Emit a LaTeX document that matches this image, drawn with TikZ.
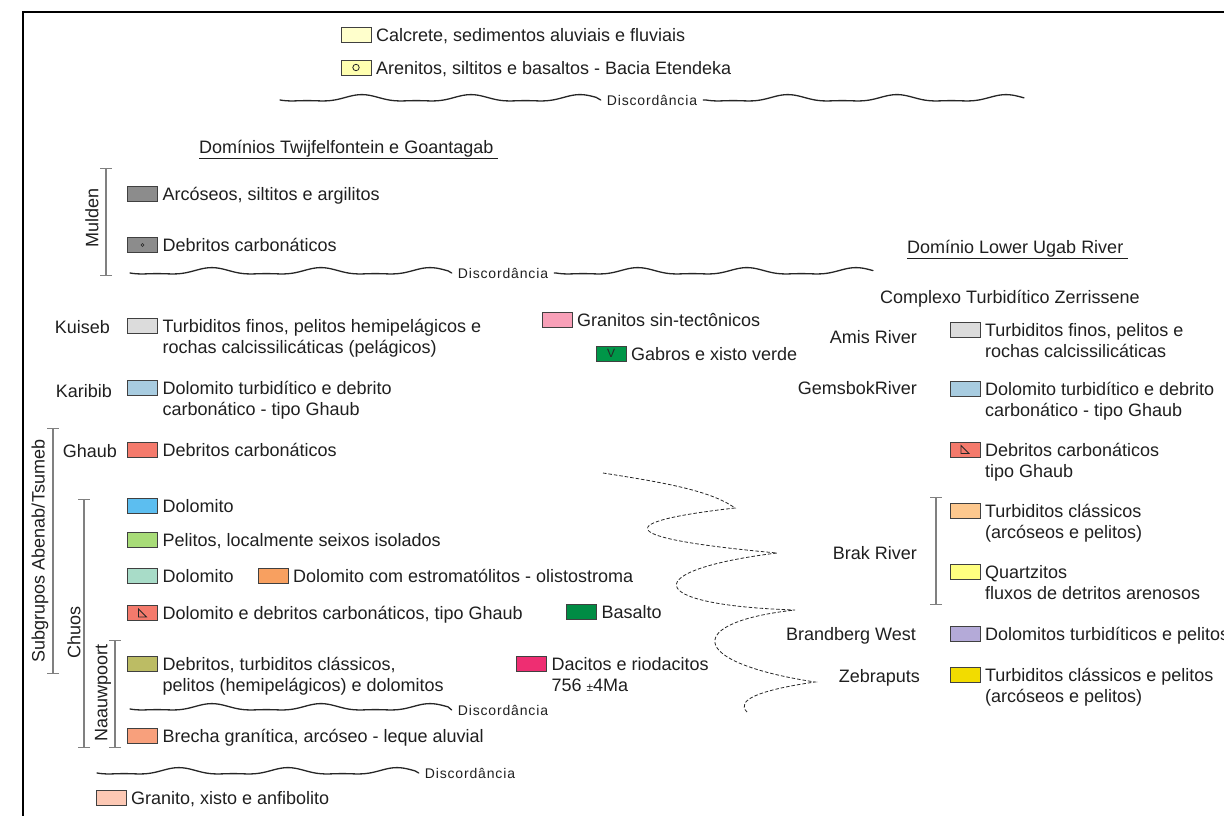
\documentclass[tikz,border=0pt]{standalone}
\usepackage{fontspec}
\setmainfont{Liberation Sans}
\newfontfamily\discfont[LetterSpace=6]{Liberation Sans}
\usetikzlibrary{arrows.meta}
\definecolor{calcrete}{RGB}{255,255,204}
\definecolor{arenito}{RGB}{255,255,176}
\definecolor{mulden}{RGB}{140,140,140}
\definecolor{kuiseb}{RGB}{220,220,220}
\definecolor{karibib}{RGB}{168,204,224}
\definecolor{ghaub}{RGB}{244,122,108}
\definecolor{dolblue}{RGB}{92,190,240}
\definecolor{pelito}{RGB}{168,220,120}
\definecolor{dolmint}{RGB}{168,220,200}
\definecolor{estrom}{RGB}{248,160,96}
\definecolor{basalto}{RGB}{0,140,68}
\definecolor{olive}{RGB}{188,188,100}
\definecolor{dacito}{RGB}{238,46,114}
\definecolor{brecha}{RGB}{248,160,124}
\definecolor{granito}{RGB}{252,200,180}
\definecolor{sintec}{RGB}{248,160,184}
\definecolor{gabro}{RGB}{0,150,72}
\definecolor{peach}{RGB}{253,200,142}
\definecolor{quartz}{RGB}{255,255,128}
\definecolor{lavender}{RGB}{180,170,216}
\definecolor{zebra}{RGB}{242,220,0}
\newcommand{\twolines}[2]{\begin{tabular}[t]{@{}l@{}}#1\\#2\end{tabular}}
\newcommand{\wave}[3]{plot[domain = 0:#3, samples = 110] ({#1+\x}, {#2+3*sin(\x*3.3)+1.2*sin(\x*6.6+90)-1.2})}

\begin{document}
\begin{tikzpicture}[x = 1pt, y = -1pt]
	\tikzstyle{unitStyle} = [draw = black!75, line width = 0.8pt, minimum width = 30pt, minimum height = 15pt, inner sep = 0pt]
	\tikzstyle{textStyle} = [anchor = base west, inner sep = 0pt, text = black!88, font = \fontsize{18}{21}\selectfont]
	\tikzstyle{legendStyle} = [textStyle, xshift = 4.5pt, yshift = 1pt]
	\tikzstyle{nameStyle} = [anchor = base east, inner sep = 0pt, text = black!88, font = \fontsize{18}{21}\selectfont]
	\tikzstyle{groupStyle} = [rotate = 90, inner sep = 0pt, text = black!88, font = \fontsize{18}{21}\selectfont]
	\tikzstyle{bracketStyle} = [draw = black!50, line width = 1.2pt, {Bar[width = 12pt]}-{Bar[width = 12pt]}]
	\tikzstyle{wavyStyle} = [line width = 1.3pt, black!85, line cap = round]
	\tikzstyle{discStyle} = [inner xsep = 6pt, inner ysep = 0pt, text = black!88, font = \discfont\fontsize{14}{16}\selectfont]
	\useasboundingbox (0,0) rectangle (1224,816);
	\draw[line width = 2.2pt] (1240,12) -- (23,12) -- (23,830);
	\node[unitStyle, fill = calcrete] (u0) at (356,34.5) {};
	\node[legendStyle] (e0) at (u0.south east) {Calcrete, sedimentos aluviais e fluviais};
	\node[unitStyle, fill = arenito] (u1) at (356,67.5) {};
	\node[legendStyle] (e1) at (u1.south east) {Arenitos, siltitos e basaltos - Bacia Etendeka};
	\draw[black!85, line width = 0.8pt] (u1.center) circle (3.2pt);
	\node[discStyle] (d0) at (652,100) {Discordância};
	\draw[wavyStyle] \wave{280}{100}{316} -- (d0.west);
	\draw[wavyStyle] (d0.east) -- (706,100) \wave{706}{100}{318};
	\node[textStyle] (h0) at (199,153) {\underline{Domínios Twijfelfontein e Goantagab\ }};
	\node[groupStyle] (s0) at (92,218) {Mulden};
	\draw[bracketStyle] (106,168) -- (106,276);
	\node[unitStyle, fill = mulden] (u2) at (142.5,193.5) {};
	\node[legendStyle] (e2) at (u2.south east) {Arcóseos, siltitos e argilitos};
	\node[unitStyle, fill = mulden] (u3) at (142.5,245) {};
	\node[legendStyle] (e3) at (u3.south east) {Debritos carbonáticos};
	\draw[black!85, line width = 0.6pt] (u3.center) circle (1.5pt);
	\node[discStyle] (d1) at (503,273) {Discordância};
	\draw[wavyStyle] \wave{130}{273}{318} -- (d1.west);
	\draw[wavyStyle] (d1.east) -- (556,273) \wave{556}{273}{317};
	\node[textStyle] (h1) at (907,253) {\underline{Domínio Lower Ugab River\ }};
	\node[textStyle] (h2) at (880,303) {Complexo Turbidítico Zerrissene};
	\node[nameStyle] (l0) at (110,333) {Kuiseb};
	\node[unitStyle, fill = kuiseb] (u4) at (142.5,325.5) {};
	\node[legendStyle] (e4) at (u4.south east) {\twolines{Turbiditos finos, pelitos hemipelágicos e}{rochas calcissilicáticas (pelágicos)}};
	\node[nameStyle] (l1) at (112,397) {Karibib};
	\node[unitStyle, fill = karibib] (u5) at (142.5,387.5) {};
	\node[legendStyle] (e5) at (u5.south east) {\twolines{Dolomito turbidítico e debrito}{carbonático - tipo Ghaub}};
	\node[nameStyle] (l2) at (117,457) {Ghaub};
	\node[unitStyle, fill = ghaub] (u6) at (142.5,450) {};
	\node[legendStyle] (e6) at (u6.south east) {Debritos carbonáticos};
	\node[groupStyle] (s1) at (40,551) {Subgrupos Abenab/Tsumeb};
	\draw[bracketStyle] (53,428) -- (53,674);
	\node[groupStyle] (s2) at (74,632) {Chuos};
	\draw[bracketStyle] (84,499) -- (84,748);
	\node[groupStyle] (s3) at (103,693) {Naauwpoort};
	\draw[bracketStyle] (115,640) -- (115,748);
	\node[unitStyle, fill = dolblue] (u7) at (142.5,506) {};
	\node[legendStyle] (e7) at (u7.south east) {Dolomito};
	\node[unitStyle, fill = pelito] (u8) at (142.5,540) {};
	\node[legendStyle] (e8) at (u8.south east) {Pelitos, localmente seixos isolados};
	\node[unitStyle, fill = dolmint] (u9) at (142.5,575.5) {};
	\node[legendStyle] (e9) at (u9.south east) {Dolomito};
	\node[unitStyle, fill = estrom] (u10) at (273,575.5) {};
	\node[legendStyle] (e10) at (u10.south east) {Dolomito com estromatólitos - olistostroma};
	\node[unitStyle, fill = ghaub] (u11) at (142.5,613) {};
	\node[legendStyle] (e11) at (u11.south east) {Dolomito e debritos carbonáticos, tipo Ghaub};
	\draw[black!85, line width = 0.8pt] ([shift = {(-4,-4)}]u11.center) -- ([shift = {(-4,4)}]u11.center) -- ([shift = {(4,4)}]u11.center) -- cycle;
	\node[unitStyle, fill = basalto] (u12) at (581.5,612) {};
	\node[legendStyle] (e12) at (u12.south east) {Basalto};
	\node[unitStyle, fill = olive] (u13) at (142.5,663.5) {};
	\node[legendStyle] (e13) at (u13.south east) {\twolines{Debritos, turbiditos clássicos,}{pelitos (hemipelágicos) e dolomitos}};
	\node[unitStyle, fill = dacito] (u14) at (531.5,663.5) {};
	\node[legendStyle] (e14) at (u14.south east) {\twolines{Dacitos e riodacitos}{756 {\fontsize{12}{14}\selectfont±}4Ma}};
	\node[discStyle] (d2) at (503,710) {Discordância};
	\draw[wavyStyle] \wave{130}{709}{318} -- (d2.west);
	\node[unitStyle, fill = brecha] (u15) at (142.5,736) {};
	\node[legendStyle] (e15) at (u15.south east) {Brecha granítica, arcóseo - leque aluvial};
	\node[discStyle] (d3) at (470,773) {Discordância};
	\draw[wavyStyle] \wave{97}{773}{318} -- (d3.west);
	\node[unitStyle, fill = granito] (u16) at (111,797.5) {};
	\node[legendStyle] (e16) at (u16.south east) {Granito, xisto e anfibolito};
	\node[unitStyle, fill = sintec] (u17) at (557,320) {};
	\node[legendStyle] (e17) at (u17.south east) {Granitos sin-tectônicos};
	\node[unitStyle, fill = gabro, font = \fontsize{12}{12}\selectfont, text = black!85] (u18) at (611,353.5) {V};
	\node[legendStyle] (e18) at (u18.south east) {Gabros e xisto verde};
	\draw[black!85, line width = 0.8pt, dash pattern = on 3.5pt off 2pt] (603,473) .. controls (660,482) and (710,490) .. (735,508) .. controls (612,522) and (612,538) .. (777,553) .. controls (640,570) and (640,605) .. (795,610) .. controls (685,622) and (685,662) .. (815,682) .. controls (760,690) and (735,700) .. (747,712);
	\node[nameStyle] (l3) at (917,343) {Amis River};
	\node[unitStyle, fill = kuiseb] (u19) at (965,330) {};
	\node[legendStyle] (e19) at (u19.south east) {\twolines{Turbiditos finos, pelitos e}{rochas calcissilicáticas}};
	\node[nameStyle] (l4) at (917,394) {GemsbokRiver};
	\node[unitStyle, fill = karibib] (u20) at (965,388.5) {};
	\node[legendStyle] (e20) at (u20.south east) {\twolines{Dolomito turbidítico e debrito}{carbonático - tipo Ghaub}};
	\node[unitStyle, fill = ghaub] (u21) at (965,449.5) {};
	\node[legendStyle] (e21) at (u21.south east) {\twolines{Debritos carbonáticos}{tipo Ghaub}};
	\draw[black!85, line width = 0.8pt] ([shift = {(-4,-4)}]u21.center) -- ([shift = {(-4,4)}]u21.center) -- ([shift = {(4,4)}]u21.center) -- cycle;
	\node[nameStyle] (l5) at (917,559) {Brak River};
	\draw[bracketStyle] (936,497) -- (936,605);
	\node[unitStyle, fill = peach] (u22) at (965,510.5) {};
	\node[legendStyle] (e22) at (u22.south east) {\twolines{Turbiditos clássicos}{(arcóseos e pelitos)}};
	\node[unitStyle, fill = quartz] (u23) at (965,571.5) {};
	\node[legendStyle] (e23) at (u23.south east) {\twolines{Quartzitos}{fluxos de detritos arenosos}};
	\node[nameStyle] (l6) at (916,640) {Brandberg West};
	\node[unitStyle, fill = lavender] (u24) at (965,633.5) {};
	\node[legendStyle] (e24) at (u24.south east) {Dolomitos turbidíticos e pelitos};
	\node[nameStyle] (l7) at (920,682) {Zebraputs};
	\node[unitStyle, fill = zebra] (u25) at (965,674.5) {};
	\node[legendStyle] (e25) at (u25.south east) {\twolines{Turbiditos clássicos e pelitos}{(arcóseos e pelitos)}};
\end{tikzpicture}
\end{document}
